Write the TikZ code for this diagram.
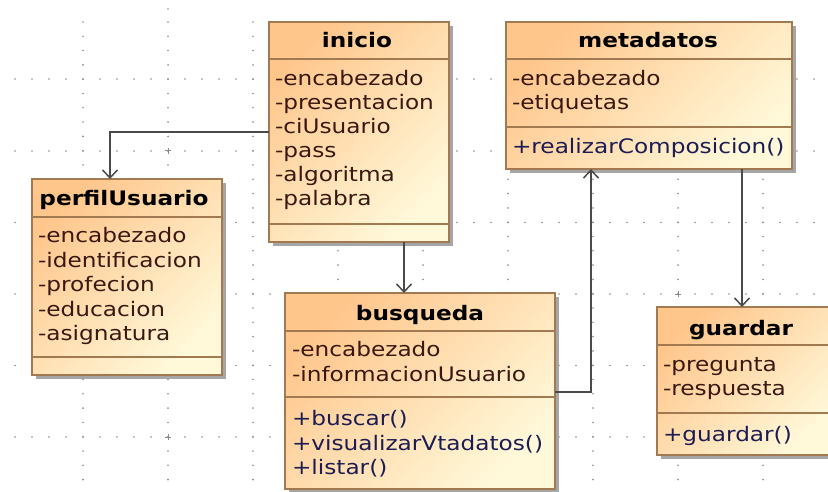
\documentclass[tikz,border=0pt]{standalone}
\usepackage{fontspec}
\setmainfont[FakeStretch=1.16]{DejaVu Sans}
\usetikzlibrary{arrows.meta,shadows}
\definecolor{boxborder}{HTML}{A27A52}
\definecolor{boxtop}{HTML}{FFC68C}
\definecolor{boxbot}{HTML}{FFF9DA}
\definecolor{attrcol}{HTML}{3A1812}
\definecolor{opcol}{HTML}{1C1C55}
\definecolor{conncol}{HTML}{4A4A4A}
\definecolor{dotcol}{HTML}{8C8C8C}
\begin{document}
\begin{tikzpicture}[x=1pt,y=-1pt,
  classbox/.style={draw=boxborder,line width=1.5pt,top color=boxtop,bottom color=boxbot,shading angle=45,
    anchor=north west,inner sep=0pt,outer sep=0pt,
    drop shadow={shadow xshift=4pt,shadow yshift=-4pt,fill=black!35,opacity=1}},
  sepline/.style={draw=boxborder,line width=1.3pt},
  basetxt/.style={inner sep=0pt,outer sep=0pt,font=\fontsize{20}{24}\selectfont},
  titletxt/.style={basetxt,anchor=base,font=\fontsize{20}{24}\selectfont\bfseries,text=black},
  attrtxt/.style={basetxt,anchor=base west,text=attrcol},
  optxt/.style={basetxt,anchor=base west,text=opcol},
  conn/.style={draw=conncol,line width=1.5pt,-{Straight Barb[length=8pt,width=15pt,line width=1.5pt]}},
  griddot/.style={fill=dotcol,draw=none},
  gridcross/.style={draw=dotcol,line width=1pt}
]
\useasboundingbox (0,0) rectangle (828,492);
\clip (0,0) rectangle (828,492);

% background grid
\foreach \yy in {79,151,222.5,294,365.5,437}
  \foreach \k in {0,...,48}
    \fill[griddot] (15+17*\k,\yy) circle (0.9pt);
\foreach \xx in {83,168,253,338,423,508,593,678,763}
  \foreach \k in {0,...,33}
    \fill[griddot] (\xx,22+14.3*\k) circle (0.9pt);
\fill[griddot] (168,9) circle (0.9pt);
\foreach \cx/\cy in {168/151,168/437,678/294}
  \draw[gridcross] (\cx-3,\cy) -- (\cx+3,\cy) (\cx,\cy-3) -- (\cx,\cy+3);

% inicio
\node[classbox,minimum width=180pt,minimum height=220pt] (inicio) at (269,22) {};
\draw[sepline] (inicio.west |- 0,59) -- (inicio.east |- 0,59);
\draw[sepline] (inicio.west |- 0,224) -- (inicio.east |- 0,224);
\node[titletxt] (inicio-t) at (357,48) {inicio};
\node[attrtxt] (inicio-a1) at (275,86) {-encabezado};
\node[attrtxt] (inicio-a2) at (275,110) {-presentacion};
\node[attrtxt] (inicio-a3) at (275,134) {-ciUsuario};
\node[attrtxt] (inicio-a4) at (275,158) {-pass};
\node[attrtxt] (inicio-a5) at (275,182) {-algoritma};
\node[attrtxt] (inicio-a6) at (275,206) {-palabra};

% metadatos
\node[classbox,minimum width=286pt,minimum height=147pt] (metadatos) at (506,22) {};
\draw[sepline] (metadatos.west |- 0,59) -- (metadatos.east |- 0,59);
\draw[sepline] (metadatos.west |- 0,127) -- (metadatos.east |- 0,127);
\node[titletxt] (metadatos-t) at (648,48) {metadatos};
\node[attrtxt] (metadatos-a1) at (512,86) {-encabezado};
\node[attrtxt] (metadatos-a2) at (512,110) {-etiquetas};
\node[optxt] (metadatos-o1) at (512,154) {+realizarComposicion()};

% perfilUsuario
\node[classbox,minimum width=190pt,minimum height=196pt] (perfilUsuario) at (32,179) {};
\draw[sepline] (perfilUsuario.west |- 0,217) -- (perfilUsuario.east |- 0,217);
\draw[sepline] (perfilUsuario.west |- 0,357) -- (perfilUsuario.east |- 0,357);
\node[titletxt] (perfilUsuario-t) at (124,205) {perfilUsuario};
\node[attrtxt] (perfilUsuario-a1) at (38,243) {-encabezado};
\node[attrtxt] (perfilUsuario-a2) at (38,267) {-identificacion};
\node[attrtxt] (perfilUsuario-a3) at (38,291) {-profecion};
\node[attrtxt] (perfilUsuario-a4) at (38,316) {-educacion};
\node[attrtxt] (perfilUsuario-a5) at (38,340) {-asignatura};

% busqueda
\node[classbox,minimum width=270pt,minimum height=196pt] (busqueda) at (285,293) {};
\draw[sepline] (busqueda.west |- 0,331) -- (busqueda.east |- 0,331);
\draw[sepline] (busqueda.west |- 0,397) -- (busqueda.east |- 0,397);
\node[titletxt] (busqueda-t) at (420,320) {busqueda};
\node[attrtxt] (busqueda-a1) at (292,356) {-encabezado};
\node[attrtxt] (busqueda-a2) at (292,381) {-informacionUsuario};
\node[optxt] (busqueda-o1) at (292,425) {+buscar()};
\node[optxt] (busqueda-o2) at (292,450) {+visualizarVtadatos()};
\node[optxt] (busqueda-o3) at (292,474) {+listar()};

% guardar
\node[classbox,minimum width=180pt,minimum height=148pt] (guardar) at (657,307) {};
\draw[sepline] (guardar.west |- 0,345) -- (guardar.east |- 0,345);
\draw[sepline] (guardar.west |- 0,413) -- (guardar.east |- 0,413);
\node[titletxt] (guardar-t) at (741,335) {guardar};
\node[attrtxt] (guardar-a1) at (663,371) {-pregunta};
\node[attrtxt] (guardar-a2) at (663,395) {-respuesta};
\node[optxt] (guardar-o1) at (663,441) {+guardar()};

% connectors
\coordinate (c1turn) at (110,132);
\coordinate (c2x) at (404,0);
\coordinate (c3turn) at (591,392);
\coordinate (c4x) at (742,0);
\draw[conn] (inicio.west |- c1turn) -| (perfilUsuario.north -| c1turn);
\draw[conn] (inicio.south -| c2x) -- (busqueda.north -| c2x);
\draw[conn] (busqueda.east |- c3turn) -| (metadatos.south -| c3turn);
\draw[conn] (metadatos.south -| c4x) -- (guardar.north -| c4x);
\end{tikzpicture}
\end{document}
